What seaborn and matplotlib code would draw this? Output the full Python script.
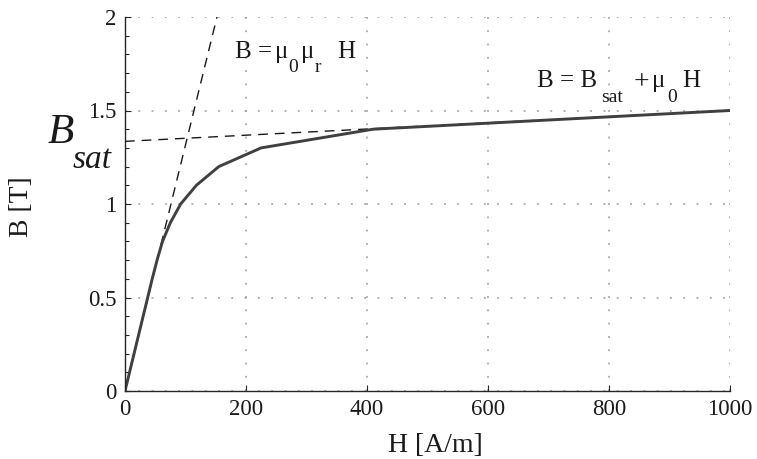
import numpy as np
import pandas as pd
import matplotlib
matplotlib.use("Agg")
import matplotlib.pyplot as plt
import seaborn as sns
from matplotlib.ticker import MultipleLocator

# Magnetization curve of the core material
H_curve = [0, 45, 53, 62, 75, 92, 118, 155, 225, 410, 1000]
B_curve = [0, 0.60, 0.70, 0.80, 0.90, 1.00, 1.10, 1.20, 1.30, 1.40, 1.50]

# Linear asymptote in the unsaturated region: B = mu0 * mur * H
H_lin = [0, 152]
B_lin = [0, 2.0]

# Saturated asymptote: B = Bsat + mu0 * H
H_sat = [0, 1000]
B_sat = [1.335, 1.50]

x_ticks = [0, 200, 400, 600, 800, 1000]
y_ticks = [0, 0.5, 1, 1.5, 2]
y_tick_labels = ["0", "0.5", "1", "1.5", "2"]

W, H = 757, 459

sns.set_theme(style="white")
plt.rcParams["font.family"] = ["Liberation Serif", "DejaVu Serif"]

fig = plt.figure(figsize=(W / 100, H / 100), dpi=100)
ax = fig.add_axes([125 / W, 1 - 391 / H, 605 / W, 374 / H])

curve = pd.DataFrame({"H": H_curve, "B": B_curve})
lin = pd.DataFrame({"H": H_lin, "B": B_lin})
sat = pd.DataFrame({"H": H_sat, "B": B_sat})

dash = (0, (7, 5))
sns.lineplot(data=lin, x="H", y="B", ax=ax, color="#1a1a1a", lw=1.0,
             linestyle=dash, sort=False)
sns.lineplot(data=sat, x="H", y="B", ax=ax, color="#1a1a1a", lw=1.0,
             linestyle=dash, sort=False)
sns.lineplot(data=curve, x="H", y="B", ax=ax, color="#404040", lw=2.1,
             sort=False)

ax.set_xlim(0, 1000)
ax.set_ylim(0, 2)
ax.set_xticks(x_ticks)
ax.set_xticklabels([str(t) for t in x_ticks])
ax.set_yticks(y_ticks)
ax.set_yticklabels(y_tick_labels)
ax.yaxis.set_minor_locator(MultipleLocator(0.1))

ax.grid(True, which="major", color="#9a9a9a", linestyle=(0, (1.2, 7.5)), lw=1.1)
ax.set_axisbelow(True)

for side in ("top", "right"):
    ax.spines[side].set_visible(False)
for side in ("left", "bottom"):
    ax.spines[side].set_color("#262626")
    ax.spines[side].set_linewidth(1.0)

ax.tick_params(axis="both", which="major", direction="in", length=4,
               width=0.8, color="#262626", labelsize=16.5, labelcolor="#1a1a1a",
               left=True, bottom=True, pad=6)
ax.tick_params(axis="y", which="minor", direction="in", length=3,
               width=0.8, color="#262626", left=True)

ax.set_xlabel("H [A/m]", fontsize=20, color="#1a1a1a")
ax.set_ylabel("B [T]", fontsize=20, color="#1a1a1a")
ax.xaxis.set_label_coords((435 - 125) / 605, -55 / 374)
ax.yaxis.set_label_coords(-103 / 605, (391 - 207) / 374)
ax.xaxis.label.set_va("center")
ax.yaxis.label.set_va("center")


def put(x, y, s, size, **kw):
    """Place a text piece at a pixel position (origin top-left)."""
    fig.text(x / W, 1 - y / H, s, fontsize=size, color="#1a1a1a",
             ha="left", va="baseline", **kw)


# B = mu0 mur H  (subscripts set low, Matlab-style)
put(235, 58, "B =", 18)
put(275, 58, "\u03bc", 18)
put(288, 72, "0", 14)
put(301, 58, "\u03bc", 18)
put(315, 72, "r", 14)
put(337, 58, "H", 18)

# B = Bsat + mu0 H
put(537, 87, "B = B", 18)
put(601, 102, "sat", 14)
put(634, 89, "+", 20)
put(652, 87, "\u03bc", 18)
put(667, 102, "0", 14)
put(682, 87, "H", 18)

# Large saturation label outside the left edge of the axes
put(48, 143, "B", 31, style="italic")
put(73, 168, "sat", 24, style="italic")

fig.savefig("out.png", dpi=100)
